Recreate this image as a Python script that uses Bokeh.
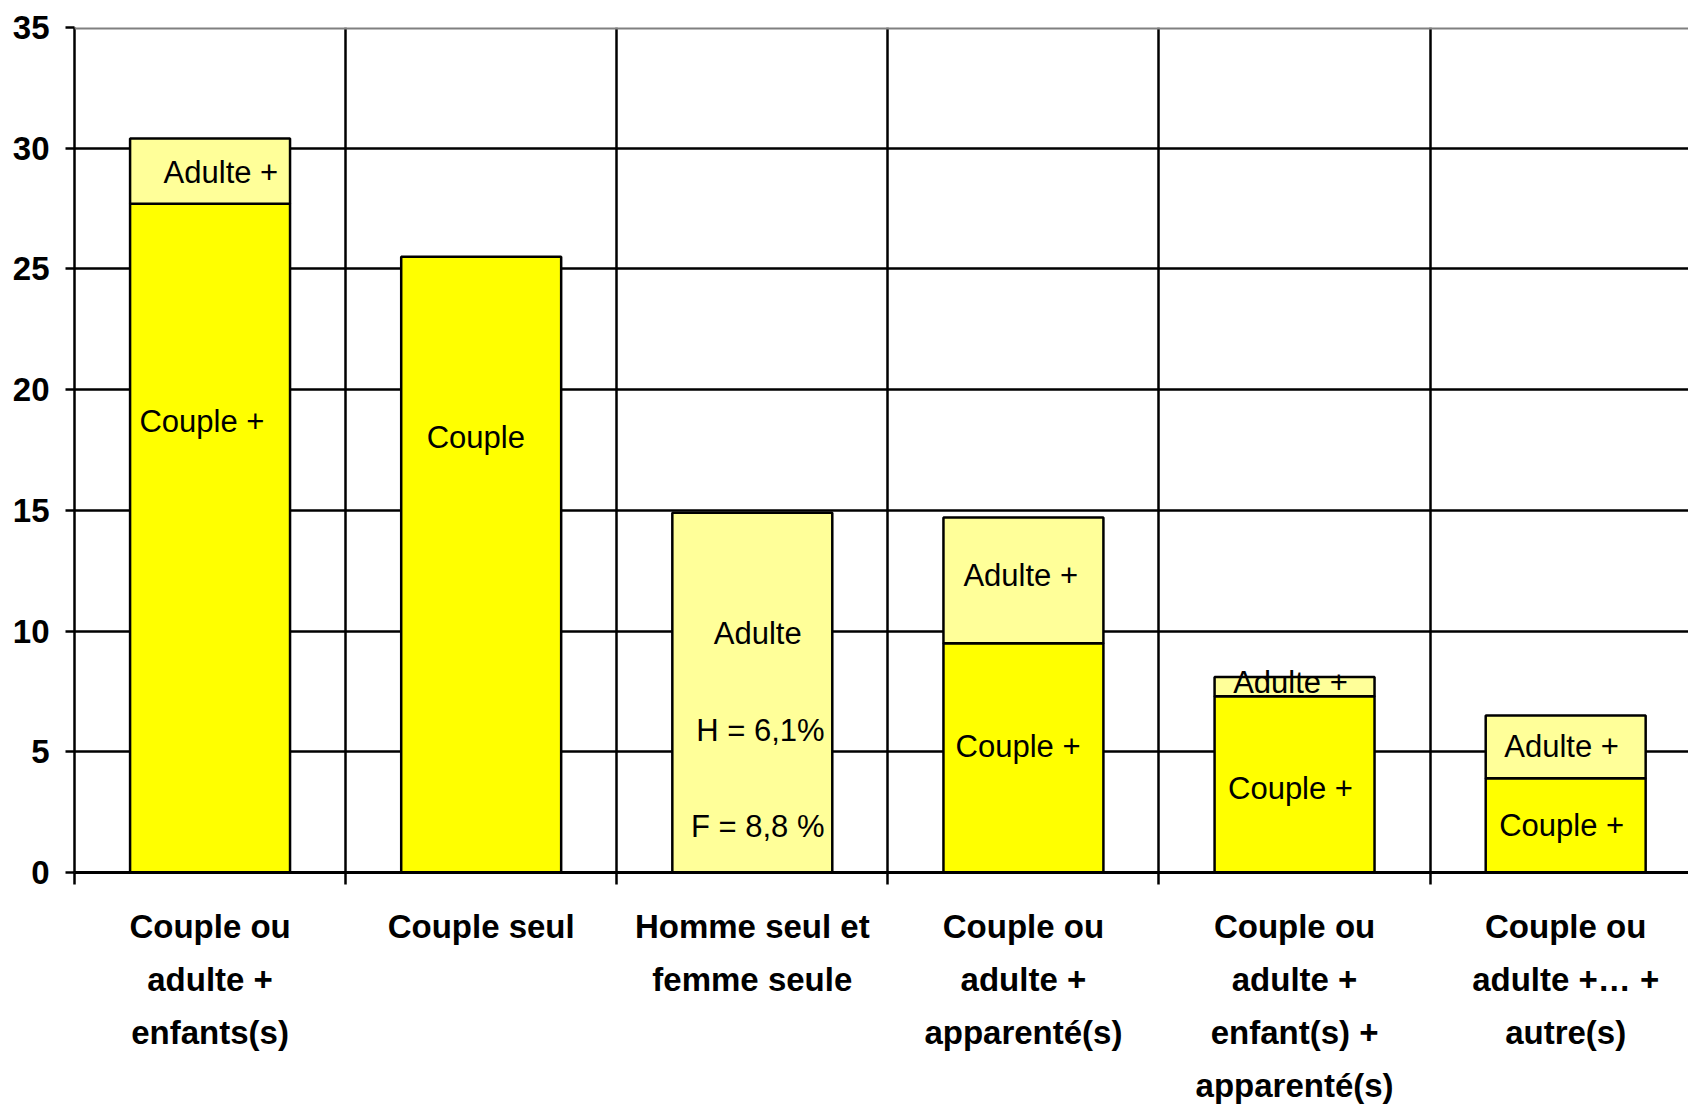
from bokeh.plotting import figure
from bokeh.models import FixedTicker, Span, ColumnDataSource, Range1d
from bokeh.core.properties import value
from bokeh.embed import file_html
from bokeh.resources import INLINE

# ---- data ----
categories = [
    "Couple ou\nadulte +\nenfants(s)",
    "Couple seul",
    "Homme seul et\nfemme seule",
    "Couple ou\nadulte +\napparenté(s)",
    "Couple ou\nadulte +\nenfant(s) +\napparenté(s)",
    "Couple ou\nadulte +… +\nautre(s)",
]
couple = [27.7, 25.5, 0.0, 9.5, 7.3, 3.9]
adulte = [2.7, 0.0, 14.9, 5.2, 0.8, 2.6]
y_ticks = [0, 5, 10, 15, 20, 25, 30, 35]

# in-bar labels (category index, text, y position, x offset in category units)
label_cat = [0, 0, 1, 2, 2, 2, 3, 3, 4, 4, 5, 5]
label_text = ["Adulte +", "Couple +", "Couple", "Adulte", "H = 6,1%", "F = 8,8 %",
              "Adulte +", "Couple +", "Adulte +", "Couple +", "Adulte +", "Couple +"]
label_y = [29.0, 18.7, 18.0, 9.9, 5.9, 1.9, 12.3, 5.2, 7.85, 3.5, 5.2, 1.95]
label_dx = [0.04, -0.03, -0.02, 0.02, 0.03, 0.02, -0.01, -0.02, -0.015, -0.015, -0.015, -0.015]

FONT = "Liberation Sans"
DARK = "#FFFF00"
LIGHT = "#FFFF99"
BAR_W = 0.59

n = len(categories)
centers = [i + 0.5 for i in range(n)]

p = figure(width=1688, height=1107, output_backend="svg", toolbar_location=None,
           x_range=Range1d(0, 5.953), y_range=Range1d(0, 35),
           min_border_left=74, min_border_right=0, min_border_top=27, min_border_bottom=235)
p.outline_line_color = None
p.background_fill_color = "white"
p.border_fill_color = "white"

# bars
cx = [c for c, v in zip(centers, couple) if v > 0]
cv = [v for v in couple if v > 0]
p.vbar(x=cx, top=cv, bottom=0, width=BAR_W, fill_color=DARK, line_color="black", line_width=2.5)
ax = [c for c, v in zip(centers, adulte) if v > 0]
ab = [b for b, v in zip(couple, adulte) if v > 0]
at = [b + v for b, v in zip(couple, adulte) if v > 0]
p.vbar(x=ax, top=at, bottom=ab, width=BAR_W, fill_color=LIGHT, line_color="black", line_width=2.5)

# labels
src = ColumnDataSource(dict(
    x=[centers[c] + d for c, d in zip(label_cat, label_dx)],
    y=label_y, t=label_text))
p.text(x="x", y="y", text="t", source=src, text_align="center", text_baseline="middle",
       text_font=value(FONT), text_font_size="31px", text_color="black")

# grids
p.ygrid.ticker = FixedTicker(ticks=y_ticks[1:-1])
p.ygrid.grid_line_color = "black"
p.ygrid.grid_line_width = 2.5
p.xgrid.ticker = FixedTicker(ticks=list(range(1, n)))
p.xgrid.grid_line_color = "black"
p.xgrid.grid_line_width = 2.5
p.add_layout(Span(location=35, dimension="width", line_color="#808080", line_width=4))

# y axis
p.yaxis.ticker = FixedTicker(ticks=y_ticks)
p.yaxis.axis_line_color = "black"
p.yaxis.axis_line_width = 2.5
p.yaxis.major_tick_line_color = "black"
p.yaxis.major_tick_line_width = 2.5
p.yaxis.major_tick_in = 0
p.yaxis.major_tick_out = 9
p.yaxis.minor_tick_line_color = None
p.yaxis.major_label_standoff = 16
p.yaxis.major_label_text_font = FONT
p.yaxis.major_label_text_font_style = "bold"
p.yaxis.major_label_text_font_size = "33px"
p.yaxis.major_label_text_color = "black"

# x axis
p.xaxis.ticker = FixedTicker(ticks=centers, minor_ticks=list(range(0, n + 1)))
p.xaxis.major_label_overrides = {c: lab for c, lab in zip(centers, categories)}
p.xaxis.axis_line_color = "black"
p.xaxis.axis_line_width = 3
p.xaxis.major_tick_line_color = None
p.xaxis.minor_tick_line_color = "black"
p.xaxis.minor_tick_line_width = 2.5
p.xaxis.minor_tick_in = 0
p.xaxis.minor_tick_out = 12
p.xaxis.major_label_standoff = 23
p.xaxis.major_label_text_font = FONT
p.xaxis.major_label_text_font_style = "bold"
p.xaxis.major_label_text_font_size = "33px"
p.xaxis.major_label_text_line_height = 1.44
p.xaxis.major_label_text_color = "black"
p.xaxis.major_label_text_align = "center"

open("out.html", "w").write(file_html(p, INLINE))
